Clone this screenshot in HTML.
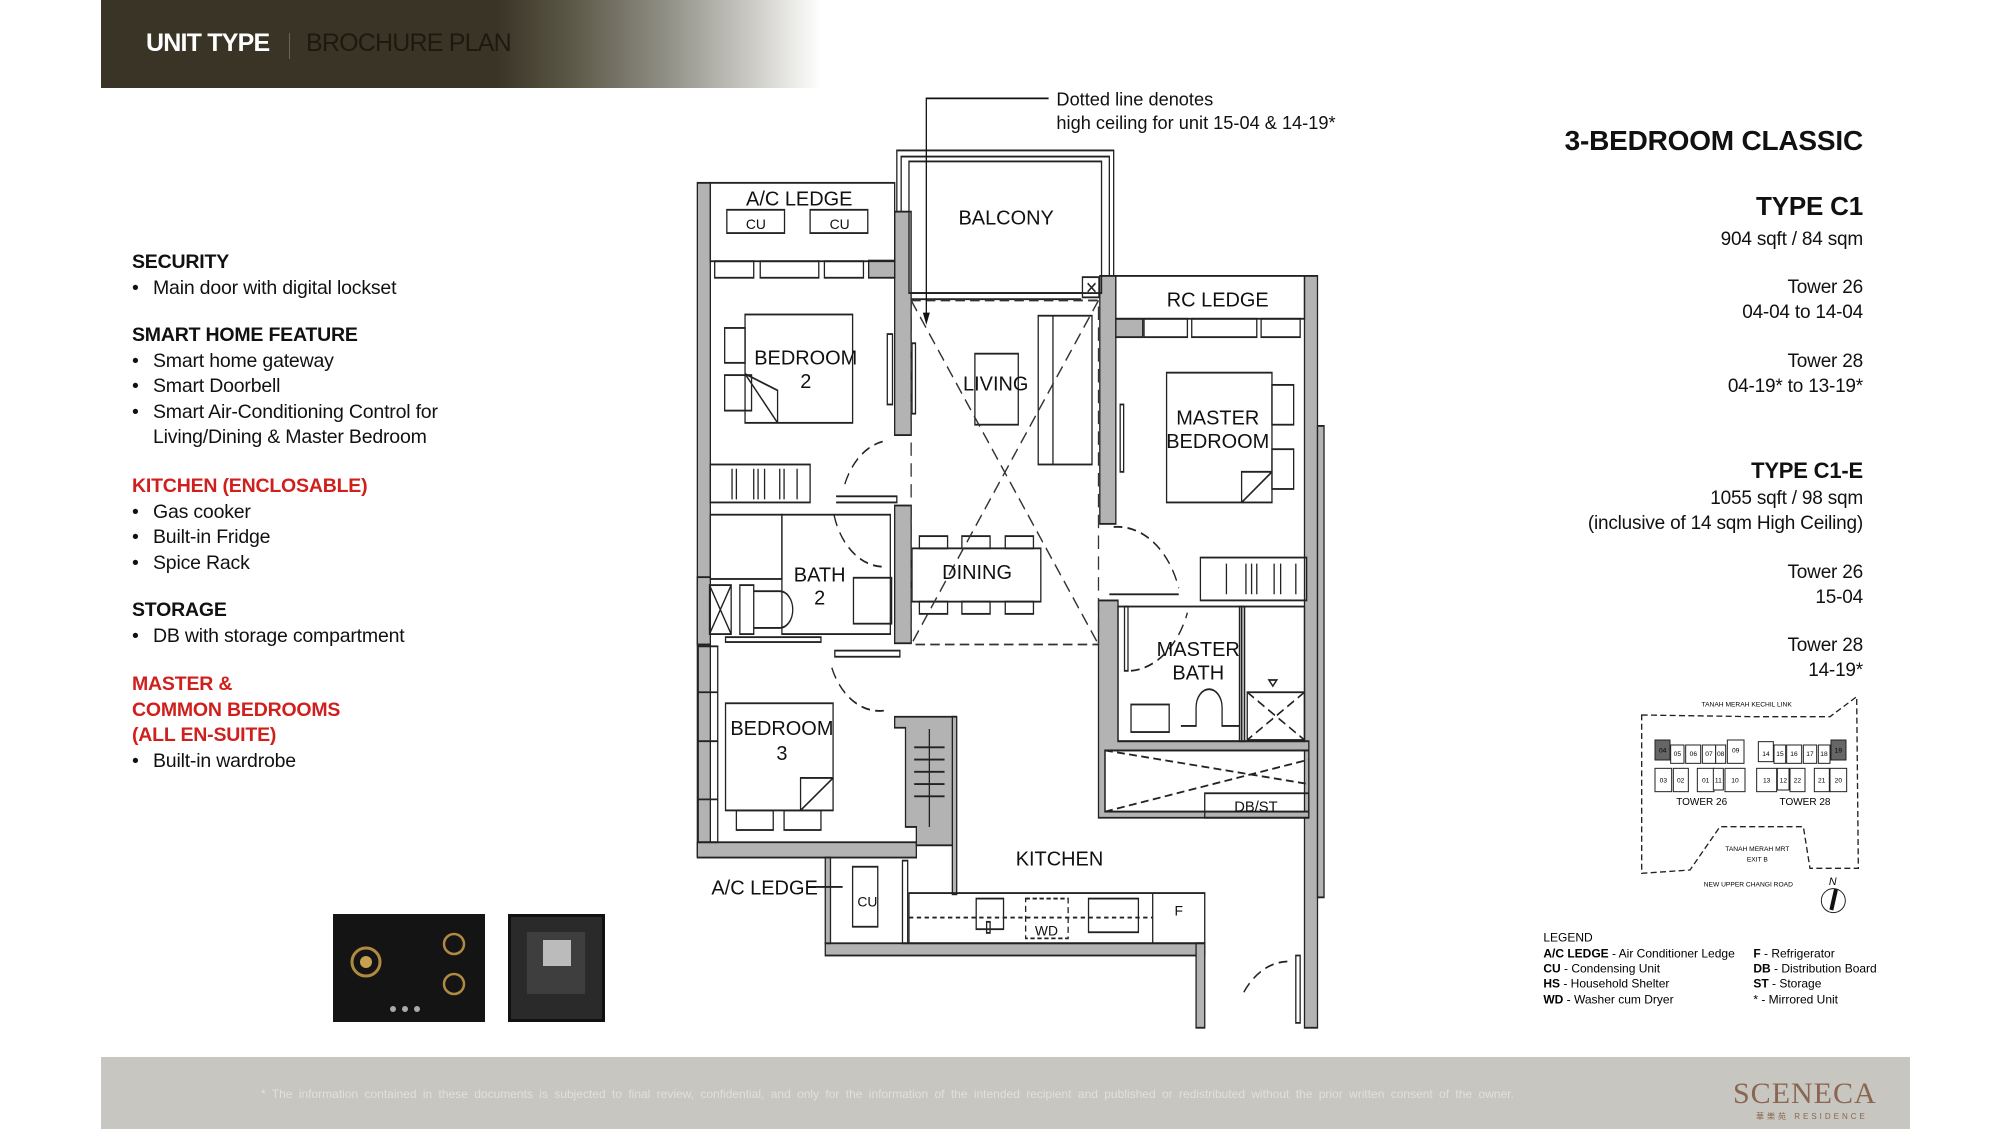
<!DOCTYPE html>
<html><head><meta charset="utf-8"><style>
*{margin:0;padding:0;box-sizing:border-box}
body{width:2000px;height:1125px;background:#fff;position:relative;overflow:hidden;font-family:"Liberation Sans","DejaVu Sans",sans-serif;color:#111}
.hdr{position:absolute;left:101px;top:0;width:720px;height:88px;background:linear-gradient(90deg,#393426 0,#393426 395px,#5c5847 470px,#8d8c82 560px,#c4c3bd 640px,#fff 720px)}
.hdr .a{position:absolute;left:45px;top:29px;font-size:25px;color:#fff;font-weight:bold;letter-spacing:-0.8px}
.hdr .d{position:absolute;left:188px;top:33px;width:1px;height:26px;background:#6a6454}
.hdr .b{position:absolute;left:205px;top:29px;font-size:25px;color:#1c190f;letter-spacing:-0.8px}
.lt{position:absolute;left:132px;font-size:19.5px;line-height:25.5px;color:#111;letter-spacing:-0.2px}
.red{color:#d0201d;font-weight:bold}
.li{padding-left:21px;position:relative}
.li:before{content:"•";position:absolute;left:0}
.rt{position:absolute;right:137px;text-align:right;font-size:19px;line-height:25px;color:#111;letter-spacing:-0.2px}
.foot{position:absolute;left:101px;top:1058px;width:1808px;height:72px;background:#c8c6c1}
.foot .t{position:absolute;left:160px;top:30px;font-size:12px;color:#e2e0dc;word-spacing:3px}
.logo{position:absolute;left:1632px;top:20px;font-size:30px;color:#8a6650;letter-spacing:1px;font-family:"Liberation Serif",serif}
.logo2{position:absolute;left:1655px;top:54px;font-size:8px;color:#8a6650;letter-spacing:3px;font-family:"Liberation Sans","Noto Sans CJK SC",sans-serif}
</style></head><body>
<div class="hdr"><div class="a">UNIT TYPE</div><div class="d"></div><div class="b">BROCHURE PLAN</div></div>

<div class="lt" style="top:250px"><b>SECURITY</b><div class="li">Main door with digital lockset</div></div>
<div class="lt" style="top:323px"><b>SMART HOME FEATURE</b><div class="li">Smart home gateway</div><div class="li">Smart Doorbell</div><div class="li">Smart Air-Conditioning Control for<br>Living/Dining &amp; Master Bedroom</div></div>
<div class="lt" style="top:474px"><span class="red">KITCHEN (ENCLOSABLE)</span><div class="li">Gas cooker</div><div class="li">Built-in Fridge</div><div class="li">Spice Rack</div></div>
<div class="lt" style="top:598px"><b>STORAGE</b><div class="li">DB with storage compartment</div></div>
<div class="lt" style="top:672px"><span class="red">MASTER &amp;<br>COMMON BEDROOMS<br>(ALL EN-SUITE)</span><div class="li">Built-in wardrobe</div></div>

<div style="position:absolute;left:333px;top:914px;width:152px;height:108px;background:#141414"></div>
<svg style="position:absolute;left:333px;top:914px" width="152" height="108">
<circle cx="33" cy="48" r="14" fill="none" stroke="#b08a40" stroke-width="3"/><circle cx="33" cy="48" r="6" fill="#c9a050"/>
<circle cx="121" cy="30" r="10" fill="none" stroke="#b08a40" stroke-width="2.5"/><circle cx="121" cy="70" r="10" fill="none" stroke="#b08a40" stroke-width="2.5"/>
<circle cx="60" cy="95" r="3" fill="#aaa"/><circle cx="72" cy="95" r="3" fill="#aaa"/><circle cx="84" cy="95" r="3" fill="#aaa"/></svg>
<div style="position:absolute;left:508px;top:914px;width:97px;height:108px;background:#2a2a2a;border:3px solid #111"></div>
<div style="position:absolute;left:527px;top:932px;width:58px;height:62px;background:#3e3e3e"></div>
<div style="position:absolute;left:543px;top:940px;width:28px;height:26px;background:#bbb"></div>

<div class="rt" style="top:128px;font-size:28px;font-weight:bold">3-BEDROOM CLASSIC</div>
<div class="rt" style="top:194px;font-size:26px;font-weight:bold">TYPE C1</div>
<div class="rt" style="top:227px">904 sqft / 84 sqm</div>
<div class="rt" style="top:275px">Tower 26<br>04-04 to 14-04</div>
<div class="rt" style="top:349px">Tower 28<br>04-19* to 13-19*</div>
<div class="rt" style="top:458px;font-size:22px;font-weight:bold">TYPE C1-E</div>
<div class="rt" style="top:486px">1055 sqft / 98 sqm<br>(inclusive of 14 sqm High Ceiling)</div>
<div class="rt" style="top:560px">Tower 26<br>15-04</div>
<div class="rt" style="top:633px">Tower 28<br>14-19*</div>

<svg style="position:absolute;left:1540px;top:690px" width="360" height="330" viewBox="0 0 1080 990" font-family="Liberation Sans, sans-serif">
<g fill="none" stroke="#222" stroke-width="4" stroke-dasharray="18 10">
<path d="M305 75 L640 80 L870 80 L950 20 L955 535 L810 535 L790 410 L540 410 L450 540 L305 550 Z"/></g>
<text x="620" y="50" font-size="20" text-anchor="middle">TANAH MERAH KECHIL LINK</text>
<g fill="#fff" stroke="#222" stroke-width="3">
<rect x="345" y="150" width="45" height="60" fill="#666"/><rect x="392" y="165" width="40" height="55"/><rect x="437" y="165" width="45" height="55"/><rect x="487" y="165" width="40" height="55"/><rect x="527" y="165" width="30" height="55"/><rect x="562" y="150" width="50" height="70"/>
<rect x="345" y="235" width="50" height="70"/><rect x="400" y="235" width="45" height="70"/><rect x="472" y="235" width="50" height="70"/><rect x="520" y="235" width="30" height="65"/><rect x="555" y="235" width="60" height="70"/>
<rect x="655" y="155" width="45" height="60"/><rect x="702" y="165" width="35" height="55"/><rect x="740" y="165" width="45" height="55"/><rect x="790" y="165" width="40" height="55"/><rect x="835" y="165" width="35" height="55"/><rect x="873" y="150" width="45" height="60" fill="#666"/>
<rect x="650" y="235" width="60" height="70"/><rect x="712" y="235" width="35" height="65"/><rect x="750" y="235" width="45" height="70"/><rect x="823" y="235" width="45" height="70"/><rect x="870" y="235" width="50" height="70"/></g>
<g font-size="20" text-anchor="middle"><text x="368" y="188">04</text><text x="412" y="198">05</text><text x="460" y="198">06</text><text x="507" y="198">07</text><text x="542" y="198">08</text><text x="587" y="188">09</text>
<text x="370" y="278">03</text><text x="422" y="278">02</text><text x="497" y="278">01</text><text x="535" y="278">11</text><text x="585" y="278">10</text>
<text x="678" y="198">14</text><text x="720" y="198">15</text><text x="762" y="198">16</text><text x="810" y="198">17</text><text x="852" y="198">18</text><text x="895" y="188">19</text>
<text x="680" y="278">13</text><text x="730" y="278">12</text><text x="772" y="278">22</text><text x="845" y="278">21</text><text x="895" y="278">20</text></g>
<text x="485" y="345" font-size="30" text-anchor="middle">TOWER 26</text><text x="795" y="345" font-size="30" text-anchor="middle">TOWER 28</text>
<text x="652" y="483" font-size="20" text-anchor="middle">TANAH MERAH MRT</text><text x="652" y="514" font-size="20" text-anchor="middle">EXIT B</text>
<text x="625" y="590" font-size="20" text-anchor="middle">NEW UPPER CHANGI ROAD</text>
<circle cx="880" cy="632" r="36" fill="none" stroke="#222" stroke-width="3"/><path d="M888 598 L874 660" stroke="#111" stroke-width="12"/>
<text x="878" y="585" font-size="32" font-style="italic" text-anchor="middle">N</text>
<g font-size="36"><text x="10" y="755">LEGEND</text>
<text x="10" y="802"><tspan font-weight="bold">A/C LEDGE</tspan> - Air Conditioner Ledge</text>
<text x="10" y="847"><tspan font-weight="bold">CU</tspan> - Condensing Unit</text>
<text x="10" y="892"><tspan font-weight="bold">HS</tspan> - Household Shelter</text>
<text x="10" y="940"><tspan font-weight="bold">WD</tspan> - Washer cum Dryer</text>
<text x="640" y="802"><tspan font-weight="bold">F</tspan> - Refrigerator</text>
<text x="640" y="847"><tspan font-weight="bold">DB</tspan> - Distribution Board</text>
<text x="640" y="892"><tspan font-weight="bold">ST</tspan> - Storage</text>
<text x="640" y="940">* - Mirrored Unit</text></g>
</svg>

<svg style="position:absolute;left:680px;top:80px" width="680" height="960" viewBox="0 0 1568 1568" preserveAspectRatio="none" font-family="Liberation Sans, sans-serif">
<g fill="#b3b3b3" stroke="#222" stroke-width="3">
<rect x="40" y="168" width="30" height="1100"/>
<rect x="40" y="1245" width="505" height="25"/>
<rect x="495" y="215" width="38" height="365"/>
<rect x="435" y="295" width="60" height="28"/>
<rect x="968" y="320" width="37" height="405"/>
<rect x="1005" y="390" width="62" height="30"/>
<rect x="1440" y="320" width="30" height="1228"/>
<rect x="1470" y="565" width="15" height="770"/>
<rect x="495" y="695" width="38" height="225"/>
<rect x="40" y="812" width="30" height="110"/>
<path d="M495 1040 L635 1040 L635 1250 L545 1250 L545 1220 L520 1220 L520 1058 L495 1058 Z"/>
<rect x="628" y="1040" width="10" height="290"/>
<rect x="335" y="1410" width="875" height="20"/>
<rect x="1190" y="1410" width="20" height="138"/>
<rect x="335" y="1270" width="12" height="140"/>
<path d="M965 850 L1010 850 L1010 1080 L1450 1080 L1450 1095 L980 1095 L980 1195 L1450 1195 L1450 1205 L965 1205 Z"/>
<rect x="1290" y="860" width="12" height="220"/>
</g>
<g fill="none" stroke="#222" stroke-width="3">
<rect x="70" y="168" width="425" height="128"/>
<rect x="108" y="212" width="133" height="38"/><rect x="300" y="212" width="133" height="38"/>
<rect x="80" y="296" width="90" height="27"/><rect x="185" y="296" width="135" height="27"/><rect x="333" y="296" width="90" height="27"/>
<path d="M500 215 L500 115 L1000 115 L1000 320"/><path d="M510 215 L510 125 L990 125 L990 320"/>
<rect x="528" y="133" width="444" height="215"/>
<line x1="533" y1="348" x2="925" y2="348"/><line x1="533" y1="358" x2="925" y2="358"/>
<rect x="928" y="322" width="38" height="33"/><path d="M940 332 L958 346 M958 332 L940 346"/>
<rect x="1005" y="320" width="435" height="70"/>
<rect x="1070" y="390" width="100" height="30"/><rect x="1180" y="390" width="150" height="30"/><rect x="1340" y="390" width="90" height="30"/>
<rect x="150" y="383" width="248" height="177"/><rect x="103" y="405" width="47" height="57"/><rect x="103" y="482" width="62" height="58"/><path d="M150 480 L225 507 L225 560 M150 480 L225 560"/>
<rect x="478" y="415" width="12" height="115"/><rect x="535" y="430" width="8" height="115"/>
<rect x="70" y="628" width="230" height="62"/><path d="M120 635 v50 M130 635 v50 M170 635 v50 M180 635 v50 M195 635 v50 M230 635 v50 M240 635 v50 M270 635 v50"/>
<path d="M360 680 L500 680 L500 690 L360 690"/>
<path d="M380 660 A120 120 0 0 1 470 590" stroke-dasharray="20 12"/>
<path d="M355 710 A120 120 0 0 0 470 795" stroke-dasharray="20 12"/>
<rect x="70" y="710" width="165" height="105"/><rect x="235" y="710" width="250" height="195"/>
<rect x="400" y="813" width="88" height="75"/><rect x="138" y="825" width="32" height="80"/><path d="M170 835 L230 835 A30 30 0 0 1 230 895 L170 895"/>
<rect x="68" y="825" width="50" height="80"/><path d="M68 825 L118 905 M118 825 L68 905"/>
<rect x="105" y="910" width="220" height="8"/>
<rect x="42" y="925" width="45" height="320"/><path d="M42 1000 h45 M42 1080 h45 M42 1175 h45"/>
<rect x="105" y="1018" width="248" height="175"/><rect x="130" y="1193" width="85" height="32"/><rect x="240" y="1193" width="85" height="32"/><path d="M278 1193 L278 1140 L353 1140 M278 1193 L353 1140"/>
<rect x="357" y="932" width="150" height="10"/>
<path d="M350 960 A120 120 0 0 0 470 1030" stroke-dasharray="20 12"/>
<path d="M540 1090 h70 M540 1110 h70 M540 1130 h70 M540 1150 h70 M540 1170 h70 M575 1060 v160"/>
<rect x="826" y="385" width="124" height="243"/><line x1="860" y1="385" x2="860" y2="628"/>
<rect x="680" y="447" width="100" height="116"/>
<rect x="535" y="765" width="297" height="87"/>
<rect x="552" y="745" width="65" height="20"/><rect x="650" y="745" width="65" height="20"/><rect x="750" y="745" width="65" height="20"/>
<rect x="552" y="852" width="65" height="20"/><rect x="650" y="852" width="65" height="20"/><rect x="750" y="852" width="65" height="20"/>
<rect x="1122" y="478" width="243" height="212"/><rect x="1365" y="498" width="50" height="65"/><rect x="1365" y="603" width="50" height="65"/><path d="M1295 690 L1295 640 L1365 640 M1295 690 L1365 640"/>
<rect x="1015" y="530" width="8" height="110"/>
<rect x="1200" y="780" width="245" height="70"/><path d="M1260 790 v50 M1305 790 v50 M1318 790 v50 M1330 790 v50 M1370 790 v50 M1385 790 v50 M1420 790 v50"/>
<path d="M990 840 L1150 840" /><path d="M1000 730 A150 150 0 0 1 1150 830" stroke-dasharray="20 12"/>
<rect x="1010" y="860" width="430" height="220"/><line x1="1295" y1="860" x2="1295" y2="1080"/>
<rect x="1025" y="860" width="8" height="105"/><path d="M1040 965 A150 150 0 0 0 1170 870" stroke-dasharray="20 12"/>
<rect x="1040" y="1020" width="88" height="45"/><path d="M1155 1055 L1190 1055 L1190 1025 A30 30 0 0 1 1250 1025 L1250 1055 L1290 1055"/>
<rect x="1308" y="1000" width="132" height="78"/><path d="M1308 1000 L1440 1078 M1440 1000 L1308 1078" stroke-dasharray="18 10"/>
<path d="M1358 980 L1376 980 L1367 990 Z"/>
<rect x="980" y="1095" width="470" height="100"/><path d="M980 1095 L1450 1150 M980 1195 L1450 1110" stroke-dasharray="18 10"/>
<rect x="1210" y="1165" width="240" height="40"/>
<rect x="398" y="1285" width="58" height="98"/>
<rect x="528" y="1328" width="682" height="82"/><line x1="1090" y1="1328" x2="1090" y2="1410"/>
<line x1="528" y1="1368" x2="1090" y2="1368" stroke-dasharray="10 8"/>
<rect x="683" y="1337" width="63" height="50"/><rect x="707" y="1375" width="8" height="18"/>
<rect x="797" y="1337" width="98" height="65" stroke-dasharray="10 6"/>
<rect x="942" y="1337" width="115" height="55"/>
<rect x="513" y="1275" width="12" height="135"/>
<path d="M1420 1430 L1420 1540 L1430 1540 L1430 1430 Z"/><path d="M1300 1490 A130 130 0 0 1 1410 1440" stroke-dasharray="20 12"/>
<path d="M295 1318 L375 1318"/>
</g>
<g fill="none" stroke="#333" stroke-width="3" stroke-dasharray="22 12">
<rect x="533" y="360" width="432" height="562"/>
<path d="M533 360 L965 922 M965 360 L533 922"/>
</g>
<path d="M568 395 L568 30 L850 30" fill="none" stroke="#111" stroke-width="3"/>
<path d="M560 380 L568 400 L576 380 Z" fill="#111"/>
<g font-size="46" fill="#111" text-anchor="middle">
<text transform="translate(275,205) scale(1,0.708)">A/C LEDGE</text>
<text transform="translate(175,243) scale(1,0.708)" font-size="32">CU</text><text transform="translate(368,243) scale(1,0.708)" font-size="32">CU</text>
<text transform="translate(752,236) scale(1,0.708)">BALCONY</text>
<text transform="translate(1240,370) scale(1,0.708)">RC LEDGE</text>
<text transform="translate(290,465) scale(1,0.708)">BEDROOM</text><text transform="translate(290,503) scale(1,0.708)">2</text>
<text transform="translate(728,507) scale(1,0.708)">LIVING</text>
<text transform="translate(1240,563) scale(1,0.708)">MASTER</text><text transform="translate(1240,601) scale(1,0.708)">BEDROOM</text>
<text transform="translate(322,819) scale(1,0.708)">BATH</text><text transform="translate(322,857) scale(1,0.708)">2</text>
<text transform="translate(685,815) scale(1,0.708)">DINING</text>
<text transform="translate(1195,941) scale(1,0.708)">MASTER</text><text transform="translate(1195,979) scale(1,0.708)">BATH</text>
<text transform="translate(235,1070) scale(1,0.708)">BEDROOM</text><text transform="translate(235,1111) scale(1,0.708)">3</text>
<text transform="translate(875,1283) scale(1,0.708)">KITCHEN</text>
<text transform="translate(195,1330) scale(1,0.708)">A/C LEDGE</text>
<text transform="translate(432,1350) scale(1,0.708)" font-size="32">CU</text>
<text transform="translate(845,1397) scale(1,0.708)" font-size="32">WD</text>
<text transform="translate(1328,1195) scale(1,0.708)" font-size="34">DB/ST</text>
<text transform="translate(1150,1365) scale(1,0.708)" font-size="32">F</text>
<text transform="translate(868,42) scale(1,0.708)" font-size="42" text-anchor="start">Dotted line denotes</text>
<text transform="translate(868,80) scale(1,0.708)" font-size="42" text-anchor="start">high ceiling for unit 15-04 &amp; 14-19*</text>
</g>
</svg>

<div class="foot" style="top:1057px;width:1809px"><div class="t">* The information contained in these documents is subjected to final review, confidential, and only for the information of the intended recipient and published or redistributed without the prior written consent of the owner.</div>
<div class="logo">SCENECA</div><div class="logo2">華樂苑 RESIDENCE</div></div>
</body></html>
